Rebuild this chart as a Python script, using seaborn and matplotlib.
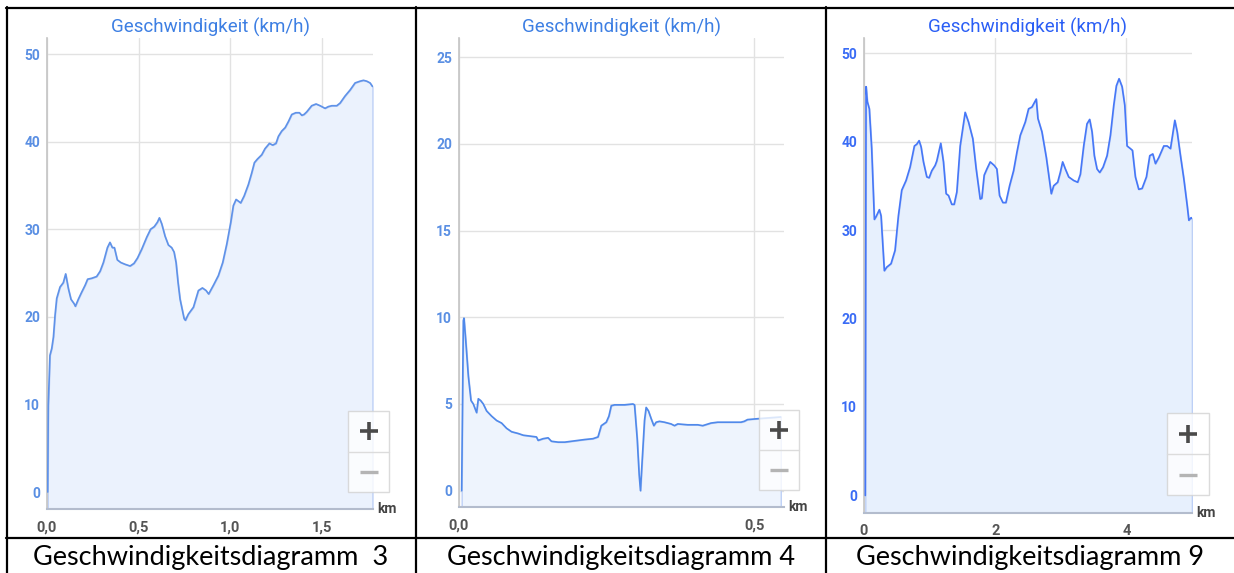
import matplotlib
matplotlib.use("Agg")
import matplotlib.pyplot as plt
from matplotlib.lines import Line2D
from matplotlib.patches import Rectangle
import seaborn as sns
import pandas as pd

# Geschwindigkeitsdiagramm 3
p3_km = [0.004, 0.007, 0.016, 0.026, 0.035, 0.044, 0.053, 0.071, 0.089, 0.102,
         0.117, 0.131, 0.148, 0.155, 0.171, 0.189, 0.208, 0.222, 0.244, 0.271,
         0.290, 0.308, 0.330, 0.344, 0.357, 0.368, 0.384, 0.403, 0.426, 0.454,
         0.475, 0.494, 0.517, 0.545, 0.566, 0.586, 0.603, 0.614, 0.627, 0.645,
         0.663, 0.681, 0.694, 0.705, 0.716, 0.727, 0.738, 0.749, 0.756, 0.772,
         0.800, 0.827, 0.849, 0.869, 0.883, 0.909, 0.936, 0.960, 0.982, 1.004,
         1.018, 1.033, 1.046, 1.058, 1.077, 1.100, 1.118, 1.133, 1.149, 1.173,
         1.191, 1.215, 1.233, 1.251, 1.264, 1.282, 1.301, 1.319, 1.337, 1.359,
         1.379, 1.392, 1.404, 1.419, 1.446, 1.470, 1.492, 1.519, 1.537, 1.556,
         1.583, 1.601, 1.628, 1.656, 1.683, 1.710, 1.729, 1.747, 1.765, 1.778]
p3_speed = [0.0, 9.9, 15.6, 16.4, 17.7, 20.2, 22.1, 23.4, 23.9, 24.9,
            23.2, 22.0, 21.5, 21.2, 22.0, 22.8, 23.6, 24.3, 24.4, 24.6,
            25.2, 26.2, 27.9, 28.5, 27.9, 27.9, 26.5, 26.2, 26.0, 25.8,
            26.1, 26.7, 27.7, 29.1, 30.0, 30.3, 30.8, 31.3, 30.6, 29.2,
            28.2, 27.9, 27.4, 26.2, 23.9, 22.0, 20.9, 19.8, 19.6, 20.3,
            21.1, 23.0, 23.3, 23.0, 22.6, 23.6, 24.7, 26.2, 28.3, 30.8,
            32.7, 33.4, 33.2, 33.0, 33.8, 35.1, 36.4, 37.6, 38.0, 38.5,
            39.2, 39.8, 39.6, 39.8, 40.6, 41.2, 41.6, 42.3, 43.1, 43.3,
            43.3, 43.0, 43.1, 43.4, 44.1, 44.3, 44.1, 43.8, 44.0, 44.1,
            44.1, 44.4, 45.2, 45.9, 46.7, 46.9, 47.0, 46.9, 46.7, 46.3]

# Geschwindigkeitsdiagramm 4
p4_km = [0.0045, 0.0073, 0.0084, 0.0113, 0.0158, 0.0203, 0.0242, 0.0298, 0.0327, 0.0366,
         0.0411, 0.0467, 0.0552, 0.0636, 0.0721, 0.0805, 0.0890, 0.1002, 0.1087, 0.1199,
         0.1312, 0.1340, 0.1425, 0.1509, 0.1565, 0.1678, 0.1791, 0.1903, 0.2016, 0.2128,
         0.2269, 0.2354, 0.2410, 0.2494, 0.2539, 0.2579, 0.2635, 0.2804, 0.2945, 0.2973,
         0.3018, 0.3052, 0.3074, 0.3102, 0.3142, 0.3170, 0.3209, 0.3255, 0.3300, 0.3339,
         0.3395, 0.3480, 0.3592, 0.3649, 0.3705, 0.3874, 0.4043, 0.4127, 0.4268, 0.4381,
         0.4550, 0.4775, 0.4831, 0.4887, 0.5056, 0.5253, 0.5450]
p4_speed = [0.0, 9.8, 9.95, 8.7, 6.6, 5.2, 5.0, 4.5, 5.3, 5.2,
            5.0, 4.6, 4.3, 4.05, 3.9, 3.6, 3.4, 3.3, 3.2, 3.15,
            3.1, 2.9, 3.0, 3.05, 2.85, 2.8, 2.8, 2.85, 2.9, 2.95,
            3.0, 3.1, 3.75, 3.95, 4.3, 4.9, 4.95, 4.95, 5.0, 4.95,
            3.0, 0.9, 0.0, 1.7, 4.05, 4.8, 4.6, 4.15, 3.75, 3.95,
            4.0, 3.95, 3.85, 3.75, 3.85, 3.8, 3.8, 3.75, 3.9, 3.95,
            3.95, 3.95, 4.0, 4.1, 4.15, 4.2, 4.25]

# Geschwindigkeitsdiagramm 9
p9_km = [0.020, 0.031, 0.051, 0.081, 0.117, 0.158, 0.183, 0.234, 0.260, 0.310,
         0.346, 0.412, 0.473, 0.524, 0.575, 0.641, 0.702, 0.768, 0.804, 0.840,
         0.870, 0.906, 0.957, 0.992, 1.033, 1.084, 1.109, 1.170, 1.211, 1.252,
         1.288, 1.338, 1.374, 1.415, 1.466, 1.542, 1.593, 1.659, 1.710, 1.771,
         1.796, 1.832, 1.873, 1.924, 1.985, 2.025, 2.066, 2.117, 2.163, 2.219,
         2.280, 2.331, 2.382, 2.458, 2.509, 2.560, 2.626, 2.651, 2.712, 2.779,
         2.855, 2.891, 2.952, 2.992, 3.028, 3.069, 3.120, 3.196, 3.257, 3.298,
         3.349, 3.399, 3.440, 3.476, 3.511, 3.552, 3.593, 3.644, 3.705, 3.756,
         3.807, 3.847, 3.888, 3.934, 3.975, 4.010, 4.061, 4.092, 4.137, 4.188,
         4.239, 4.305, 4.356, 4.402, 4.443, 4.494, 4.570, 4.621, 4.672, 4.738,
         4.774, 4.824, 4.875, 4.926, 4.952, 4.987, 4.998]
p9_speed = [0.0, 46.2, 44.5, 43.7, 39.2, 31.2, 31.5, 32.3, 31.6, 25.4,
            25.8, 26.2, 27.7, 31.6, 34.5, 35.6, 37.1, 39.5, 39.7, 40.1,
            39.4, 37.7, 36.0, 35.9, 36.7, 37.3, 37.8, 39.8, 37.7, 34.1,
            33.9, 32.9, 32.9, 34.3, 39.5, 43.3, 42.2, 40.3, 36.9, 33.5,
            33.6, 36.2, 36.9, 37.7, 37.3, 36.9, 33.9, 33.1, 33.1, 35.0,
            36.7, 38.8, 40.7, 42.2, 43.7, 43.9, 44.8, 42.6, 41.1, 38.2,
            34.1, 35.0, 35.4, 36.5, 37.7, 36.9, 36.0, 35.6, 35.4, 36.3,
            39.5, 42.0, 42.5, 41.1, 38.4, 36.9, 36.5, 37.1, 38.4, 40.7,
            44.1, 46.3, 47.1, 46.2, 44.1, 39.5, 39.2, 39.0, 36.0, 34.6,
            34.7, 36.0, 38.4, 38.6, 37.5, 38.2, 39.5, 39.5, 39.2, 42.4,
            41.1, 38.4, 35.8, 32.8, 31.1, 31.4, 31.3]

captions = ["Geschwindigkeitsdiagramm  3", "Geschwindigkeitsdiagramm 4",
            "Geschwindigkeitsdiagramm 9"]
title = "Geschwindigkeit (km/h)"

sns.set_theme(style="white")
plt.rcParams["font.family"] = ["Roboto", "DejaVu Sans"]

W, H = 1234, 573
fig = plt.figure(figsize=(W / 100, H / 100), dpi=100)


def fx(x):
    return x / W


def fy(y):
    return 1 - y / H


def hline(x0, x1, y, **kw):
    fig.add_artist(Line2D([fx(x0), fx(x1)], [fy(y), fy(y)], transform=fig.transFigure, **kw))


def vline(x, y0, y1, **kw):
    fig.add_artist(Line2D([fx(x), fx(x)], [fy(y0), fy(y1)], transform=fig.transFigure, **kw))


panels = [
    dict(km=p3_km, v=p3_speed, box=(47, 38, 373, 509), xlim=(0, 1.781), ylim=(-1.94, 51.83),
         xticks=[0, 0.5, 1.0, 1.5], xlabels=["0,0", "0,5", "1,0", "1,5"],
         yticks=[0, 10, 20, 30, 40, 50], line="#5f92e8", fill="#ebf2fd",
         tcol="#3d7fe3", ycol="#5a8fe3", btn=(348, 411, 389, 492), cap=211),
    dict(km=p4_km, v=p4_speed, box=(459, 38, 784, 507), xlim=(0, 0.5505), ylim=(-0.94, 26.1),
         xticks=[0, 0.5], xlabels=["0,0", "0,5"],
         yticks=[0, 5, 10, 15, 20, 25], line="#5089ea", fill="#eef4fd",
         tcol="#3d7fe3", ycol="#5a8fe3", btn=(759, 410, 799, 490), cap=621),
    dict(km=p9_km, v=p9_speed, box=(864, 38, 1192, 513), xlim=(0, 5.0), ylim=(-1.98, 51.7),
         xticks=[0, 2, 4], xlabels=["0", "2", "4"],
         yticks=[0, 10, 20, 30, 40, 50], line="#4677f7", fill="#e7f0fd",
         tcol="#2a5ef5", ycol="#3a6cf5", btn=(1167, 413, 1209, 495), cap=1030),
]

for i, p in enumerate(panels):
    l, t, r, b = p["box"]
    ax = fig.add_axes([fx(l), fy(b), (r - l) / W, (b - t) / H])
    df = pd.DataFrame({"km": p["km"], "speed": p["v"]})
    ax.fill_between(df["km"], df["speed"], p["ylim"][0], facecolor=p["fill"],
                    edgecolor="#bdd0f6", linewidth=1.0, zorder=1)
    sns.lineplot(data=df, x="km", y="speed", ax=ax, color=p["line"], linewidth=1.2,
                 estimator=None, zorder=3)
    ax.set_xlim(*p["xlim"])
    ax.set_ylim(*p["ylim"])
    ax.set_xticks(p["xticks"])
    ax.set_xticklabels(p["xlabels"])
    ax.set_yticks(p["yticks"])
    ax.set_xlabel("")
    ax.set_ylabel("")
    ax.grid(True, color="#e2e2e2", linewidth=1.0, zorder=0)
    ax.set_axisbelow(True)
    for s in ["top", "right"]:
        ax.spines[s].set_visible(False)
    ax.spines["left"].set_color("#c4c4c4")
    ax.spines["left"].set_linewidth(1.2)
    ax.spines["bottom"].set_color("#b3bccd")
    ax.spines["bottom"].set_linewidth(1.5)
    ax.tick_params(axis="y", length=0, pad=5, labelsize=10, labelcolor=p["ycol"])
    ax.tick_params(axis="x", length=0, pad=8, labelsize=10.5, labelcolor="#555555")
    for lab in ax.get_xticklabels() + ax.get_yticklabels():
        lab.set_fontweight("bold")
    ax.annotate("km", xy=(1, 0), xycoords="axes fraction", xytext=(3, 0),
                textcoords="offset points", ha="left", va="center", fontsize=10,
                fontweight="bold", color="#444444")
    fig.text(fx((l + r) / 2), fy(27), title, ha="center", va="center",
             fontsize=13.5, color=p["tcol"])

    # zoom buttons
    bx0, by0, bx1, by1 = p["btn"]
    fig.add_artist(Rectangle((fx(bx0), fy(by1)), (bx1 - bx0) / W, (by1 - by0) / H,
                             transform=fig.transFigure, facecolor="white", alpha=0.8,
                             edgecolor="#d2d2d2", linewidth=1.0, zorder=5))
    mid = (by0 + by1) / 2
    hline(bx0, bx1, mid, color="#dcdcdc", linewidth=1.0, zorder=6)
    cx = (bx0 + bx1) / 2
    cy1 = (by0 + mid) / 2
    cy2 = (mid + by1) / 2
    hline(cx - 9, cx + 9, cy1, color="#4a4a4a", linewidth=2.6, zorder=7, solid_capstyle="butt")
    vline(cx, cy1 - 9, cy1 + 9, color="#4a4a4a", linewidth=2.6, zorder=7, solid_capstyle="butt")
    hline(cx - 9, cx + 9, cy2, color="#b4b4b4", linewidth=2.4, zorder=7, solid_capstyle="butt")

    fig.text(fx(p["cap"]), fy(557), captions[i], ha="center", va="center",
             fontsize=19.5, color="black", family=["Lato", "DejaVu Sans"])

# table borders
lk = dict(color="black", linewidth=1.6, zorder=10)
hline(6, 1234, 8, **lk)
hline(6, 1234, 538, **lk)
vline(7, 7, 573, **lk)
vline(416, 7, 573, **lk)
vline(826, 7, 573, **lk)

fig.savefig("out.png", dpi=100, facecolor="white")
